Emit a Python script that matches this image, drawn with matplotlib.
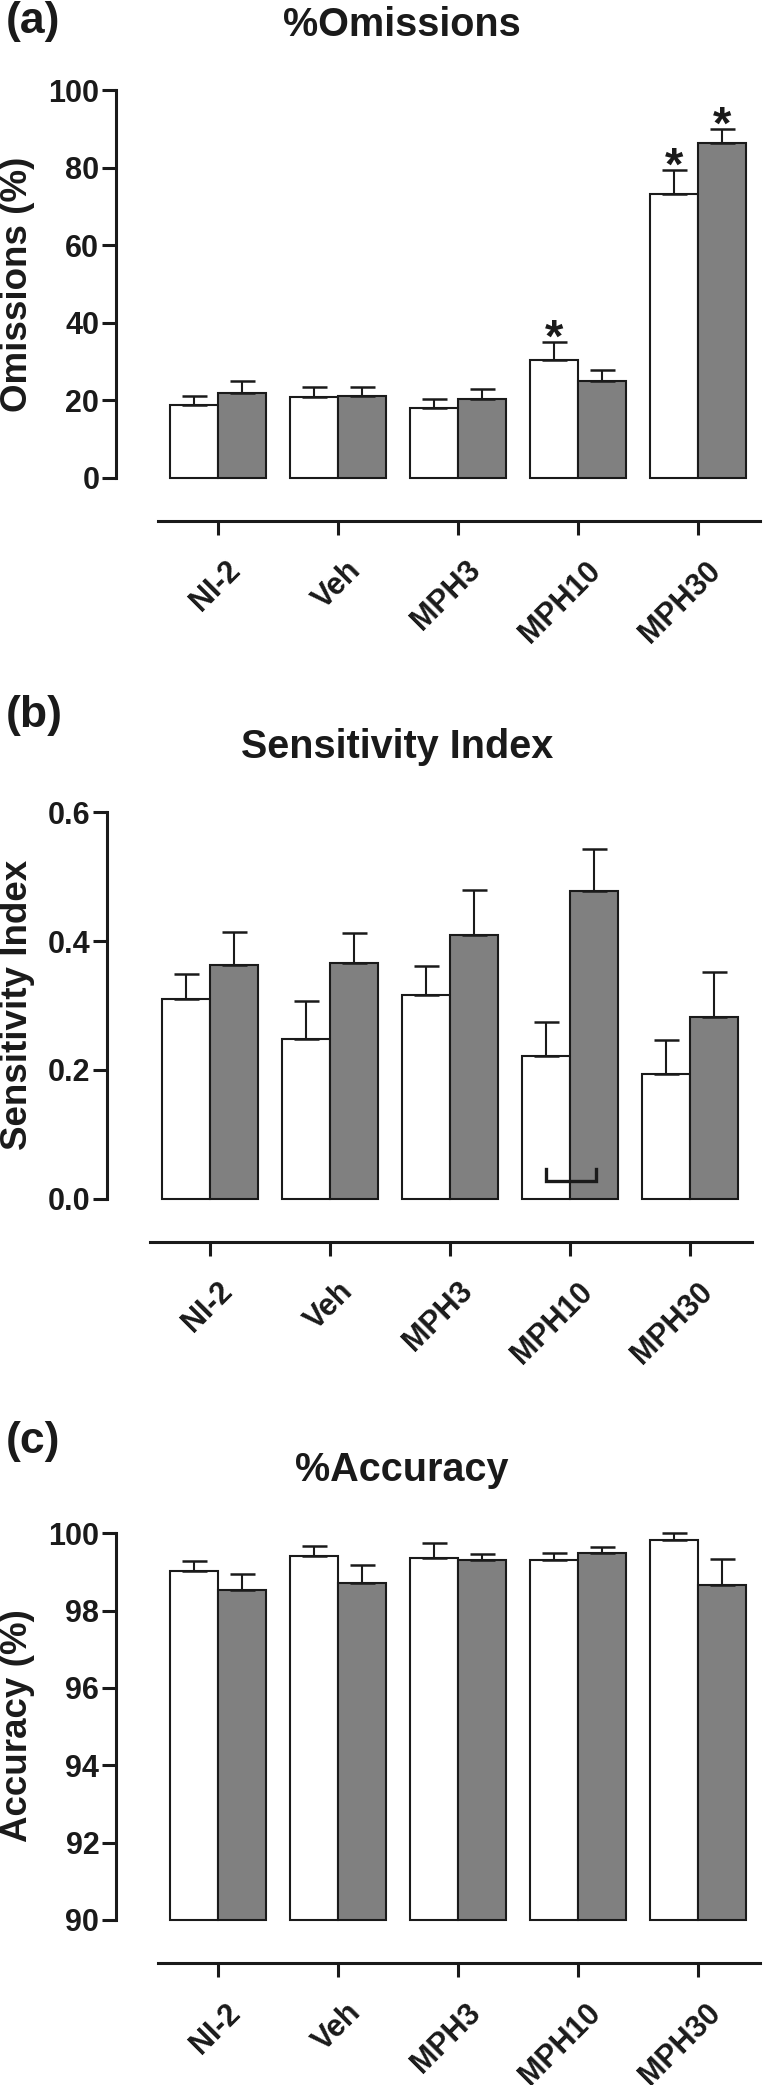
import numpy as np
import matplotlib
matplotlib.use("Agg")
import matplotlib.pyplot as plt
import matplotlib.transforms as mtransforms
from matplotlib.ticker import FormatStrFormatter

plt.rcParams['font.family'] = ['Liberation Sans', 'DejaVu Sans']
plt.rcParams['font.weight'] = 'bold'

groups = ['NI-2', 'Veh', 'MPH3', 'MPH10', 'MPH30']

# %Omissions
omis_white = [18.7, 20.7, 18.0, 30.3, 73.3]
omis_white_err = [2.5, 2.6, 2.3, 4.6, 6.0]
omis_gray = [21.9, 21.2, 20.4, 24.9, 86.4]
omis_gray_err = [3.0, 2.3, 2.6, 3.0, 3.7]
omis_star_white = [False, False, False, True, True]
omis_star_gray = [False, False, False, False, True]

# Sensitivity index
sens_white = [0.310, 0.248, 0.316, 0.221, 0.194]
sens_white_err = [0.039, 0.059, 0.045, 0.053, 0.052]
sens_gray = [0.363, 0.366, 0.409, 0.478, 0.282]
sens_gray_err = [0.051, 0.047, 0.071, 0.066, 0.070]
bracket_x = [2.8, 2.8, 3.22, 3.22]
bracket_y = [0.046, 0.027, 0.027, 0.046]

# %Accuracy
acc_white = [99.02, 99.42, 99.36, 99.31, 99.83]
acc_white_err = [0.27, 0.26, 0.38, 0.19, 0.18]
acc_gray = [98.54, 98.71, 99.30, 99.48, 98.66]
acc_gray_err = [0.41, 0.48, 0.17, 0.16, 0.66]

W, H = 764, 2085
fig = plt.figure(figsize=(W / 100, H / 100), dpi=100)
ink = '#1a1a1a'


def make_axes(left_px, top_px, bottom_px, tick0_px):
    ax = fig.add_axes([left_px / W, 1 - bottom_px / H, 648 / W, (bottom_px - top_px) / H])
    lo = -(tick0_px - left_px) / 120
    ax.set_xlim(lo, lo + 5.4)
    return ax


def panel(ax, white, werr, gray, gerr, ylim, yticks, fmt):
    x = np.arange(len(groups))
    base = ylim[0]
    for vals, errs, col, off in [(white, werr, 'white', -0.2), (gray, gerr, '#808080', 0.2)]:
        vals = np.array(vals)
        ax.bar(x + off, vals - base, width=0.4, bottom=base, color=col,
               edgecolor=ink, linewidth=1.5, clip_on=False, zorder=2)
        ax.errorbar(x + off, vals, yerr=[np.zeros(len(vals)), errs], fmt='none',
                    ecolor=ink, elinewidth=1.5, capsize=9, capthick=1.8,
                    clip_on=False, zorder=3)
    ax.set_ylim(ylim)
    ax.set_yticks(yticks)
    ax.yaxis.set_major_formatter(FormatStrFormatter(fmt))
    for s in ['top', 'right']:
        ax.spines[s].set_visible(False)
    ax.spines['left'].set_bounds(ylim[0], ylim[1])
    ax.spines['bottom'].set_position(('outward', 31))
    ax.spines['bottom'].set_bounds(-0.5, 4.52)
    for s in ['left', 'bottom']:
        ax.spines[s].set_linewidth(2.2)
        ax.spines[s].set_color(ink)
    ax.tick_params(axis='both', direction='out', length=10, width=2.2, color=ink,
                   labelsize=22, labelcolor=ink)
    ax.tick_params(axis='y', pad=2)
    ax.tick_params(axis='x', pad=15)
    ax.set_xticks(x)
    ax.set_xticklabels(groups, rotation=45, ha='right', rotation_mode='anchor',
                       fontsize=22, fontweight='bold')
    shift = mtransforms.ScaledTranslation(8 / 100, 0, fig.dpi_scale_trans)
    for lab in ax.get_xticklabels():
        lab.set_transform(lab.get_transform() + shift)
    return x


def label_texts(tag, tag_y, title, title_x, title_y, ylabel, ylab_y):
    fig.text(6 / W, 1 - tag_y / H, tag, ha='left', va='center', fontsize=32,
             fontweight='bold', color=ink)
    fig.text(title_x / W, 1 - title_y / H, title, ha='center', va='center',
             fontsize=28.5, fontweight='bold', color=ink)
    fig.text(18 / W, 1 - ylab_y / H, ylabel, ha='center', va='center', rotation=90,
             fontsize=26.5, fontweight='bold', color=ink)


# (a)
ax1 = make_axes(116, 90.2, 477.7, 217.8)
x = panel(ax1, omis_white, omis_white_err, omis_gray, omis_gray_err,
          (0, 100), [0, 20, 40, 60, 80, 100], '%d')
for xi, v, e, s in zip(x, omis_white, omis_white_err, omis_star_white):
    if s:
        ax1.annotate('*', xy=(xi - 0.2, v + e), xytext=(0, -7), textcoords='offset points',
                     ha='center', va='baseline', fontsize=34, fontweight='bold', color=ink)
for xi, v, e, s in zip(x, omis_gray, omis_gray_err, omis_star_gray):
    if s:
        ax1.annotate('*', xy=(xi + 0.2, v + e), xytext=(0, -7), textcoords='offset points',
                     ha='center', va='baseline', fontsize=34, fontweight='bold', color=ink)
label_texts('(a)', 22, '%Omissions', 402, 25.4, 'Omissions (%)', 284)

# (b)
ax2 = make_axes(107, 812.5, 1198.7, 209.5)
panel(ax2, sens_white, sens_white_err, sens_gray, sens_gray_err,
      (0, 0.6), [0.0, 0.2, 0.4, 0.6], '%.1f')
ax2.plot(bracket_x, bracket_y, color=ink, linewidth=2.4, zorder=4,
         solid_joinstyle='miter')
label_texts('(b)', 716, 'Sensitivity Index', 397, 747, 'Sensitivity Index', 1005)

# (c)
ax3 = make_axes(116, 1533.2, 1919.9, 217.8)
panel(ax3, acc_white, acc_white_err, acc_gray, acc_gray_err,
      (90, 100), [90, 92, 94, 96, 98, 100], '%d')
label_texts('(c)', 1441.5, '%Accuracy', 402, 1470, 'Accuracy (%)', 1726)

fig.savefig('out.png', dpi=100)
